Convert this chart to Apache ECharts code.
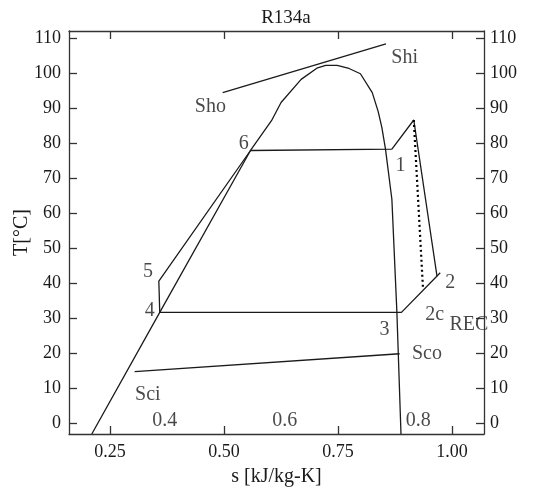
<!DOCTYPE html>
<html>
<head>
<meta charset="utf-8">
<script src="https://cdn.jsdelivr.net/npm/echarts@6/dist/echarts.min.js"></script>
<style>html,body{margin:0;padding:0;background:#fff}#c{width:544px;height:495px}</style>
</head>
<body>
<div id="c"></div>
<script>
// Saturation dome (entropy s, temperature T)
const domeS = [0.210, 0.359, 0.558, 0.604, 0.625, 0.669, 0.705, 0.723, 0.748, 0.774, 0.799, 0.825, 0.838, 0.846, 0.854, 0.868, 0.879, 0.888];
const domeT = [-3, 31.7, 77.9, 86.4, 91.6, 98.2, 101.5, 102.2, 102.2, 101.3, 99.8, 94.4, 89.0, 84.5, 78.3, 64.0, 31.7, -3];
// Cycle 4 -> 5 -> 6 -> 1 -> peak -> 2
const cycleS = [0.359, 0.357, 0.558, 0.868, 0.916, 0.967];
const cycleT = [31.7, 40.6, 77.9, 78.3, 86.6, 42.0];
// Recuperator leg 2 -> 2c -> 4
const recS = [0.974, 0.889, 0.359];
const recT = [43.0, 31.7, 31.7];
// Isentropic (dotted) expansion line
const isoS = [0.916, 0.936];
const isoT = [86.6, 39.0];
// Heat source line Sho -> Shi
const hotS = [0.497, 0.855];
const hotT = [94.4, 108.3];
// Cooling line Sci -> Sco
const coldS = [0.304, 0.885];
const coldT = [14.8, 19.9];
// Annotations
const annText = ['Sho', 'Shi', '6', '1', '5', '4', '2', '2c', 'REC', '3', 'Sco', 'Sci', '0.4', '0.6', '0.8'];
const annS = [0.470, 0.896, 0.543, 0.887, 0.333, 0.337, 0.996, 0.962, 1.037, 0.852, 0.945, 0.333, 0.370, 0.633, 0.926];
const annT = [90.3, 104.3, 79.8, 73.6, 43.2, 32.1, 40.1, 31.0, 28.1, 26.7, 19.9, 8.2, 0.9, 0.9, 0.9];
// Ticks
const xTicks = [0.25, 0.50, 0.75, 1.00];
const yTicks = [0, 10, 20, 30, 40, 50, 60, 70, 80, 90, 100, 110];

const FONT = '"Liberation Serif", "DejaVu Serif", serif';
const INK = '#1a1a1a';
const FS = 20;
const TFS = 18;
const GRID = { left: 69, right: 60, top: 31, bottom: 61 };
const zip = (a, b) => a.map((v, i) => [v, b[i]]);
const lineSeries = (s, t, extra) => Object.assign({
  type: 'line', data: zip(s, t), symbol: 'none', silent: true,
  lineStyle: { color: INK, width: 1.3 }, animation: false
}, extra || {});

const axisCommon = {
  type: 'value', splitLine: { show: false },
  axisLine: { show: true, onZero: false, lineStyle: { color: '#333', width: 1.3 } },
  axisTick: { show: true, inside: true, length: 8, lineStyle: { color: '#333', width: 1.3 } }
};

const chart = echarts.init(document.getElementById('c'), null, { renderer: 'canvas' });
chart.setOption({
  animation: false,
  title: {
    text: 'R134a', left: 281, textAlign: 'center', top: 4,
    textStyle: { fontFamily: FONT, fontSize: 19, fontWeight: 'normal', color: INK }
  },
  grid: Object.assign({ outerBoundsMode: 'none', containLabel: false }, GRID),
  xAxis: [
    Object.assign({}, axisCommon, {
      position: 'bottom', min: 0.16, max: 1.07,
      axisTick: Object.assign({}, axisCommon.axisTick, { customValues: xTicks }),
      axisLabel: { customValues: xTicks, formatter: v => v.toFixed(2), fontFamily: FONT, fontSize: TFS, color: INK, margin: 9 },
      name: 's [kJ/kg-K]', nameLocation: 'middle', nameGap: 33, nameMoveOverlap: false,
      nameTextStyle: { fontFamily: FONT, fontSize: FS, color: INK }
    }),
    Object.assign({}, axisCommon, {
      position: 'top', min: 0.16, max: 1.07,
      axisTick: Object.assign({}, axisCommon.axisTick, { customValues: xTicks }),
      axisLabel: { show: false }
    })
  ],
  yAxis: [
    Object.assign({}, axisCommon, {
      position: 'left', min: -3, max: 112,
      axisTick: Object.assign({}, axisCommon.axisTick, { customValues: yTicks }),
      axisLabel: { customValues: yTicks, fontFamily: FONT, fontSize: TFS, color: INK, margin: 8 },
      name: 'T[°C]', nameLocation: 'middle', nameGap: 37, nameRotate: 90, nameMoveOverlap: false,
      nameTextStyle: { fontFamily: FONT, fontSize: FS, color: INK }
    }),
    Object.assign({}, axisCommon, {
      position: 'right', min: -3, max: 112,
      axisTick: Object.assign({}, axisCommon.axisTick, { customValues: yTicks }),
      axisLabel: { customValues: yTicks, fontFamily: FONT, fontSize: TFS, color: INK, margin: 6 }
    })
  ],
  series: [
    lineSeries(domeS, domeT),
    lineSeries(cycleS, cycleT),
    lineSeries(recS, recT),
    lineSeries(isoS, isoT, { lineStyle: { color: '#000', width: 2.2, type: [2, 3] } }),
    lineSeries(hotS, hotT),
    lineSeries(coldS, coldT),
    {
      type: 'scatter', symbolSize: 0, silent: true, animation: false,
      data: annText.map((t, i) => ({ value: [annS[i], annT[i]], name: t })),
      label: { show: true, position: 'inside', formatter: p => p.name, fontFamily: FONT, fontSize: FS, color: INK }
    }
  ]
});
</script>
</body>
</html>
